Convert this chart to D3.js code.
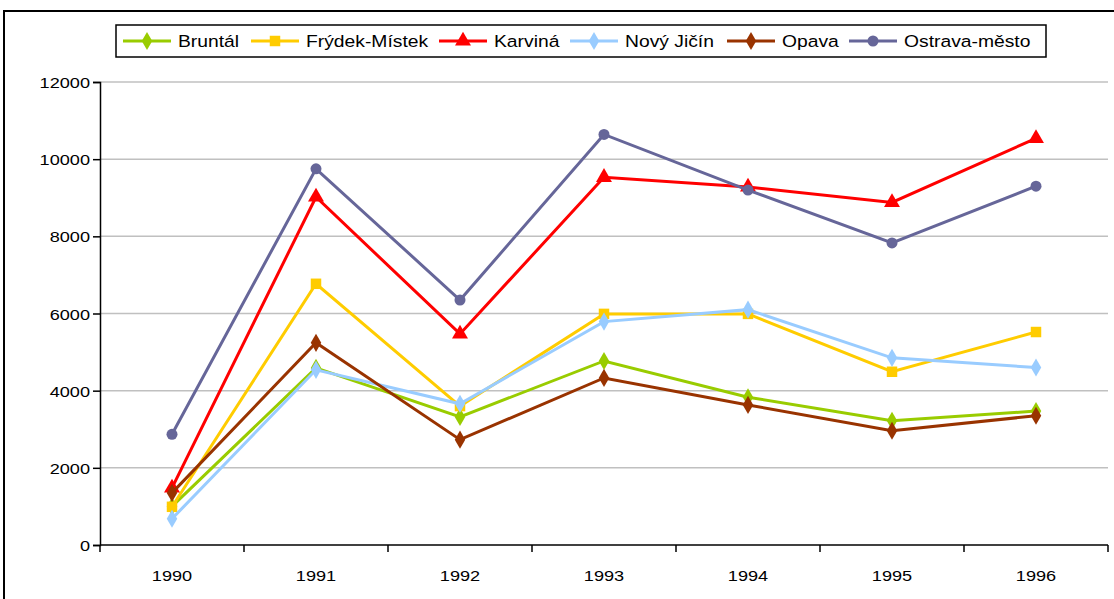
<!DOCTYPE html>
<html>
<head>
<meta charset="utf-8">
<script src="https://cdn.jsdelivr.net/npm/d3@7"></script>
<style>
  body { margin: 0; background: #fff; }
  text { font-family: "Liberation Sans", Arial, sans-serif; }
</style>
</head>
<body>
<script>
// data
var years = ["1990", "1991", "1992", "1993", "1994", "1995", "1996"];
var names = ["Bruntál", "Frýdek-Místek", "Karviná", "Nový Jičín", "Opava", "Ostrava-město"];
var bruntal  = [1000, 4590, 3320, 4770, 3830, 3220, 3470];
var frydek   = [990, 6770, 3600, 5990, 5990, 4490, 5520];
var karvina  = [1480, 9020, 5470, 9530, 9280, 8880, 10540];
var novyJicin = [680, 4540, 3660, 5790, 6100, 4850, 4600];
var opava    = [1350, 5240, 2730, 4330, 3630, 2960, 3350];
var ostrava  = [2870, 9750, 6350, 10640, 9200, 7830, 9300];
var yTicks = [0, 2000, 4000, 6000, 8000, 10000, 12000];

var colors = ["#99cc00", "#ffcc00", "#ff0000", "#99ccff", "#993300", "#666699"];
var shapes = ["diamond", "square", "triangle", "diamond", "diamond", "circle"];
var series = [bruntal, frydek, karvina, novyJicin, opava, ostrava].map(function (v, i) {
    return { name: names[i], values: v, color: colors[i], shape: shapes[i] };
});

var W = 1114, H = 599;
var stretch = 1.17; // text in the original is a bit wide
var margin = { top: 82, right: 6, bottom: 54, left: 100 },
    width = W - margin.left - margin.right,
    height = H - margin.top - margin.bottom;

var root = d3.select("body").append("svg")
    .attr("width", W)
    .attr("height", H);

// outer frame
root.append("rect")
    .attr("x", 4).attr("y", 11)
    .attr("width", W + 20).attr("height", H + 20)
    .attr("fill", "none").attr("stroke", "#000").attr("stroke-width", 2);

var svg = root.append("g")
    .attr("transform", "translate(" + margin.left + "," + margin.top + ")");

var xScale = d3.scaleBand().domain(years).range([0, width]);
var yScale = d3.scaleLinear().domain([0, 12000]).range([height, 0]);

// gridlines
svg.selectAll(".grid")
    .data(yTicks.filter(function (d) { return d > 0; }))
    .enter().append("line")
    .attr("x1", 0).attr("x2", width)
    .attr("y1", d => yScale(d)).attr("y2", d => yScale(d))
    .attr("stroke", "#c0c0c0").attr("stroke-width", 1.5);

// y axis
var yAxis = d3.axisLeft(yScale).tickValues(yTicks).tickFormat(d3.format("d")).tickSize(7);
var gy = svg.append("g").call(yAxis);
gy.select(".domain").attr("stroke", "#000").attr("stroke-width", 1.5);
gy.selectAll(".tick line").attr("stroke", "#000").attr("stroke-width", 1.5);
gy.selectAll("text")
    .attr("x", null).attr("dy", null)
    .attr("transform", "translate(-10,5.5) scale(" + stretch + ",1)")
    .style("font-size", "15.5px").attr("fill", "#000");

// x axis: ticks at category boundaries
var gx = svg.append("g").attr("transform", "translate(0," + height + ")");
gx.append("line").attr("x1", 0).attr("x2", width)
    .attr("stroke", "#000").attr("stroke-width", 1.5);
gx.selectAll(".xt")
    .data(years.concat(["end"]))
    .enter().append("line")
    .attr("x1", (d, i) => i * xScale.step())
    .attr("x2", (d, i) => i * xScale.step())
    .attr("y1", 0).attr("y2", 7)
    .attr("stroke", "#000").attr("stroke-width", 1.5);
gx.selectAll(".xl")
    .data(years)
    .enter().append("text")
    .attr("transform", d => "translate(" + (xScale(d) + xScale.bandwidth() / 2) + ",36) scale(" + stretch + ",1)")
    .attr("text-anchor", "middle")
    .style("font-size", "15.5px")
    .text(d => d);

var line = d3.line()
    .x((d, i) => xScale(years[i]) + xScale.bandwidth() / 2)
    .y(d => yScale(d));

function marker(sel, shape, color) {
    if (shape === "circle") {
        sel.append("circle").attr("r", 5.5).attr("fill", color);
    } else {
        var sym = shape === "square" ? d3.symbolSquare : shape === "triangle" ? d3.symbolTriangle : d3.symbolDiamond;
        var size = shape === "square" ? 110 : shape === "triangle" ? 110 : 95;
        sel.append("path").attr("d", d3.symbol().type(sym).size(size)()).attr("fill", color);
    }
}

series.forEach(function (s) {
    var g = svg.append("g");
    g.append("path")
        .datum(s.values)
        .attr("d", line)
        .attr("fill", "none")
        .attr("stroke", s.color)
        .attr("stroke-width", 3);
    s.values.forEach(function (v, i) {
        var m = g.append("g")
            .attr("transform", "translate(" + (xScale(years[i]) + xScale.bandwidth() / 2) + "," + yScale(v) + ")");
        marker(m, s.shape, s.color);
    });
});

// legend
var legend = root.append("g");
legend.append("rect")
    .attr("x", 116).attr("y", 25)
    .attr("width", 930).attr("height", 32)
    .attr("fill", "#fff").attr("stroke", "#000").attr("stroke-width", 1.5);
var lx = [123, 251, 439, 570, 727, 849];
series.forEach(function (s, i) {
    var g = legend.append("g").attr("transform", "translate(" + lx[i] + ",41)");
    g.append("line").attr("x1", 0).attr("x2", 48)
        .attr("stroke", s.color).attr("stroke-width", 3);
    var m = g.append("g").attr("transform", "translate(24,0)");
    marker(m, s.shape, s.color);
    g.append("text")
        .attr("transform", "translate(55,6) scale(" + stretch + ",1)")
        .style("font-size", "16.5px").text(s.name);
});
</script>
</body>
</html>
